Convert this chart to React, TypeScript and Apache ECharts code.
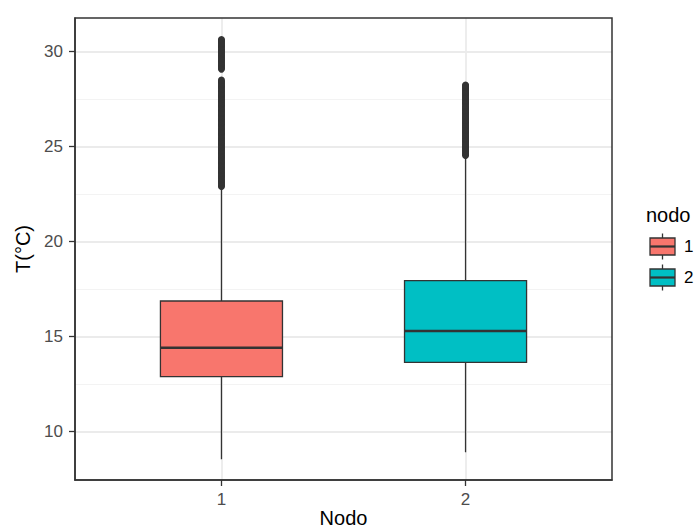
import React, { useEffect, useRef } from "react";
import * as echarts from "echarts";

// ---- data ----
const categories = ["1", "2"];
const categoryPositions = [1, 2];
const lowerWhisker = [8.55, 8.92];
const q1 = [12.9, 13.65];
const median = [14.42, 15.3];
const q3 = [16.88, 17.95];
const upperWhisker = [22.75, 24.4];
const boxColors = ["#F8766D", "#00BFC4"];

const outliersNodo1 = [
  22.9, 22.96, 23.03, 23.1, 23.16, 23.22, 23.3, 23.37, 23.44, 23.5, 23.57, 23.63,
  23.7, 23.77, 23.84, 23.9, 23.97, 24.04, 24.1, 24.17, 24.23, 24.3, 24.37, 24.44,
  24.5, 24.56, 24.63, 24.7, 24.77, 24.83, 24.9, 24.97, 25.03, 25.1, 25.16, 25.23,
  25.3, 25.36, 25.43, 25.5, 25.57, 25.63, 25.7, 25.76, 25.83, 25.9, 25.96, 26.03,
  26.1, 26.17, 26.23, 26.3, 26.36, 26.43, 26.5, 26.56, 26.63, 26.7, 26.77, 26.83,
  26.9, 26.96, 27.03, 27.1, 27.17, 27.23, 27.3, 27.36, 27.43, 27.5, 27.57, 27.63,
  27.7, 27.76, 27.83, 27.9, 27.96, 28.03, 28.1, 28.17, 28.23, 28.3, 28.36, 28.43,
  28.5,
  29.08, 29.14, 29.2, 29.27, 29.34, 29.4, 29.47, 29.54, 29.6, 29.67, 29.73, 29.8,
  29.87, 29.93, 30.0, 30.07, 30.13, 30.2, 30.27, 30.33, 30.4, 30.46, 30.53, 30.59,
  30.64,
];
const outliersNodo2 = [
  24.54, 24.6, 24.67, 24.74, 24.8, 24.87, 24.93, 25.0, 25.07, 25.13, 25.2, 25.27,
  25.33, 25.4, 25.46, 25.53, 25.6, 25.67, 25.73, 25.8, 25.86, 25.93, 26.0, 26.07,
  26.13, 26.2, 26.26, 26.33, 26.4, 26.47, 26.53, 26.6, 26.66, 26.73, 26.8, 26.87,
  26.93, 27.0, 27.06, 27.13, 27.2, 27.27, 27.33, 27.4, 27.46, 27.53, 27.6, 27.67,
  27.73, 27.8, 27.86, 27.93, 28.0, 28.06, 28.13, 28.19, 28.24,
];

const yMajorTicks = [10, 15, 20, 25, 30];
const yMinorTicks = [12.5, 17.5, 22.5, 27.5];
const xTicks = [1, 2];
const xTitle = "Nodo";
const yTitle = "T(°C)";
const legendTitle = "nodo";

const Y_MIN = 7.46;
const Y_MAX = 31.77;
const X_MIN = 0.4;
const X_MAX = 2.6;
const BOX_WIDTH = 0.5;

const DARK = "#333333";
const FONT = "Liberation Sans, Arial, sans-serif";

export default function App() {
  const ref = useRef<HTMLDivElement>(null);

  useEffect(() => {
    if (!ref.current) return;
    const chart = echarts.init(ref.current, null, { renderer: "svg" });

    const boxData = categories.map((_, i) => [
      categoryPositions[i],
      lowerWhisker[i],
      q1[i],
      median[i],
      q3[i],
      upperWhisker[i],
    ]);

    const legendGraphics: any[] = [
      {
        type: "text",
        left: 646,
        top: 205,
        style: { text: legendTitle, fontSize: 20, fontFamily: FONT, fill: "#000" },
      },
    ];
    const keyCenters = [246.5, 277.5];
    categories.forEach((c, i) => {
      const cy = keyCenters[i];
      legendGraphics.push(
        {
          type: "line",
          shape: { x1: 662.5, y1: cy - 13, x2: 662.5, y2: cy + 13 },
          style: { stroke: DARK, lineWidth: 1.3 },
        },
        {
          type: "rect",
          shape: { x: 650, y: cy - 8.5, width: 25, height: 17 },
          style: { fill: boxColors[i], stroke: DARK, lineWidth: 1.3 },
        },
        {
          type: "line",
          shape: { x1: 650, y1: cy, x2: 675, y2: cy },
          style: { stroke: DARK, lineWidth: 2.2 },
        },
        {
          type: "text",
          x: 684,
          y: cy,
          style: {
            text: c,
            fontSize: 17,
            fontFamily: FONT,
            fill: "#000",
            verticalAlign: "middle",
            align: "left",
          },
        }
      );
    });

    const option: any = {
      animation: false,
      backgroundColor: "#ffffff",
      grid: {
        left: 75,
        right: 83,
        top: 18,
        bottom: 52,
        show: false,
        containLabel: false,
        outerBoundsMode: "none",
      },
      xAxis: {
        type: "value",
        min: X_MIN,
        max: X_MAX,
        axisLine: { show: true, onZero: false, lineStyle: { color: DARK, width: 1.5 } },
        axisTick: {
          show: true,
          customValues: xTicks,
          length: 6,
          lineStyle: { color: DARK, width: 1.3 },
        },
        axisLabel: {
          customValues: xTicks,
          margin: 11,
          fontSize: 17,
          fontFamily: FONT,
          color: "#4d4d4d",
          formatter: (v: number) => categories[categoryPositions.indexOf(v)] ?? "",
        },
        splitLine: { show: true, lineStyle: { color: "#ebebeb", width: 1.8 } },
      },
      yAxis: [
        {
          type: "value",
          min: Y_MIN,
          max: Y_MAX,
          name: yTitle,
          nameLocation: "middle",
          nameGap: 41,
          nameRotate: 90,
          nameTextStyle: { fontSize: 20, fontFamily: FONT, color: "#000" },
          axisLine: { show: true, onZero: false, lineStyle: { color: DARK, width: 1.5 } },
          axisTick: {
            show: true,
            customValues: yMajorTicks,
            length: 6,
            lineStyle: { color: DARK, width: 1.3 },
          },
          axisLabel: {
            customValues: yMajorTicks,
            margin: 12,
            fontSize: 17,
            fontFamily: FONT,
            color: "#4d4d4d",
          },
          splitLine: { show: true, lineStyle: { color: "#ebebeb", width: 1.8 } },
        },
        {
          type: "value",
          min: Y_MIN,
          max: Y_MAX,
          position: "left",
          axisLine: { show: false },
          axisTick: { show: false, customValues: yMinorTicks },
          axisLabel: { show: false, customValues: yMinorTicks },
          splitLine: { show: true, lineStyle: { color: "#f3f3f3", width: 1 } },
        },
      ],
      graphic: [
        {
          type: "rect",
          shape: { x: 75, y: 18, width: 537, height: 462 },
          style: { fill: "none", stroke: DARK, lineWidth: 1.5 },
          z: 100,
        },
        {
          type: "text",
          x: 343.5,
          y: 518,
          style: {
            text: xTitle,
            fontSize: 20,
            fontFamily: FONT,
            fill: "#000",
            align: "center",
            verticalAlign: "middle",
          },
        },
        ...legendGraphics,
      ],
      series: [
        {
          type: "custom",
          xAxisIndex: 0,
          yAxisIndex: 0,
          data: boxData,
          z: 2,
          renderItem: (params: any, api: any) => {
            const x = api.value(0);
            const lo = api.value(1);
            const q1v = api.value(2);
            const med = api.value(3);
            const q3v = api.value(4);
            const hi = api.value(5);
            const half = BOX_WIDTH / 2;
            const pLo = api.coord([x, lo]);
            const pHi = api.coord([x, hi]);
            const pTL = api.coord([x - half, q3v]);
            const pBR = api.coord([x + half, q1v]);
            const pML = api.coord([x - half, med]);
            const pMR = api.coord([x + half, med]);
            return {
              type: "group",
              children: [
                {
                  type: "line",
                  shape: { x1: pLo[0], y1: pLo[1], x2: pHi[0], y2: pHi[1] },
                  style: { stroke: DARK, lineWidth: 1.3 },
                },
                {
                  type: "rect",
                  shape: {
                    x: pTL[0],
                    y: pTL[1],
                    width: pBR[0] - pTL[0],
                    height: pBR[1] - pTL[1],
                  },
                  style: { fill: boxColors[params.dataIndex], stroke: DARK, lineWidth: 1.3 },
                },
                {
                  type: "line",
                  shape: { x1: pML[0], y1: pML[1], x2: pMR[0], y2: pMR[1] },
                  style: { stroke: DARK, lineWidth: 2.7 },
                },
              ],
            };
          },
        },
        {
          type: "scatter",
          xAxisIndex: 0,
          yAxisIndex: 0,
          symbol: "circle",
          symbolSize: 7,
          z: 3,
          itemStyle: { color: DARK, opacity: 1 },
          data: [
            ...outliersNodo1.map((v) => [categoryPositions[0], v]),
            ...outliersNodo2.map((v) => [categoryPositions[1], v]),
          ],
        },
      ],
    };

    chart.setOption(option);
    return () => chart.dispose();
  }, []);

  return (
    <div
      ref={ref}
      style={{ position: "fixed", left: 0, top: 0, width: 695, height: 532 }}
    />
  );
}
